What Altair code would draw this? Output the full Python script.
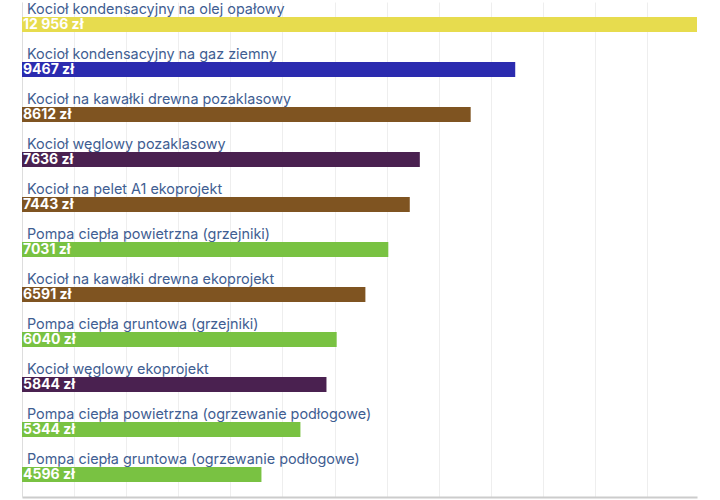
import altair as alt
import pandas as pd

categories = [
    "Kocioł kondensacyjny na olej opałowy",
    "Kocioł kondensacyjny na gaz ziemny",
    "Kocioł na kawałki drewna pozaklasowy",
    "Kocioł węglowy pozaklasowy",
    "Kocioł na pelet A1 ekoprojekt",
    "Pompa ciepła powietrzna (grzejniki)",
    "Kocioł na kawałki drewna ekoprojekt",
    "Pompa ciepła gruntowa (grzejniki)",
    "Kocioł węglowy ekoprojekt",
    "Pompa ciepła powietrzna (ogrzewanie podłogowe)",
    "Pompa ciepła gruntowa (ogrzewanie podłogowe)",
]
values = [12956, 9467, 8612, 7636, 7443, 7031, 6591, 6040, 5844, 5344, 4596]
value_labels = ["12 956 zł", "9467 zł", "8612 zł", "7636 zł", "7443 zł", "7031 zł",
                "6591 zł", "6040 zł", "5844 zł", "5344 zł", "4596 zł"]
colors = ["#e7dc4e", "#2b2baf", "#7f5421", "#4a2150", "#7f5421", "#79c242",
          "#7f5421", "#79c242", "#4a2150", "#79c242", "#79c242"]

df = pd.DataFrame({"cat": categories, "value": values, "vlabel": value_labels, "color": colors})

FONT = "Inter"
yscale = alt.Scale(domain=categories, paddingInner=2/3, paddingOuter=1/3)
y = alt.Y("cat:N", scale=yscale, sort=categories,
          axis=alt.Axis(labels=False, ticks=False, title=None, grid=False,
                        domainColor="#dddddd", domainWidth=1))
x = alt.X("value:Q", scale=alt.Scale(domain=[0, 12956], nice=False),
          axis=alt.Axis(labels=False, ticks=False, title=None, values=list(range(0, 13000, 1000)),
                        grid=True, gridColor="#eeeeee", gridWidth=1,
                        domainColor="#cccccc", domainWidth=2))

base = alt.Chart(df)
bars = base.mark_bar(size=15).encode(
    x=x, y=y, color=alt.Color("color:N", scale=None)
)
cat_text = base.mark_text(align="left", baseline="alphabetic", dx=5, dy=-11,
                          font=FONT, fontSize=14.4, color="#3f5e92").encode(
    x=alt.value(0), y=y, text="cat:N"
)
val_text = base.mark_text(align="left", baseline="middle", dx=1, dy=0.5,
                          font=FONT, fontSize=14, fontWeight="bold", color="white").encode(
    x=alt.value(0), y=y, text="vlabel:N"
)

chart = (bars + cat_text + val_text).properties(
    width=675, height=495,
    padding={"left": 22, "top": 2, "right": 23, "bottom": 3},
    autosize="none",
).configure_view(stroke=None)

chart.save("out.html", embed_options={"renderer": "svg", "actions": False})
